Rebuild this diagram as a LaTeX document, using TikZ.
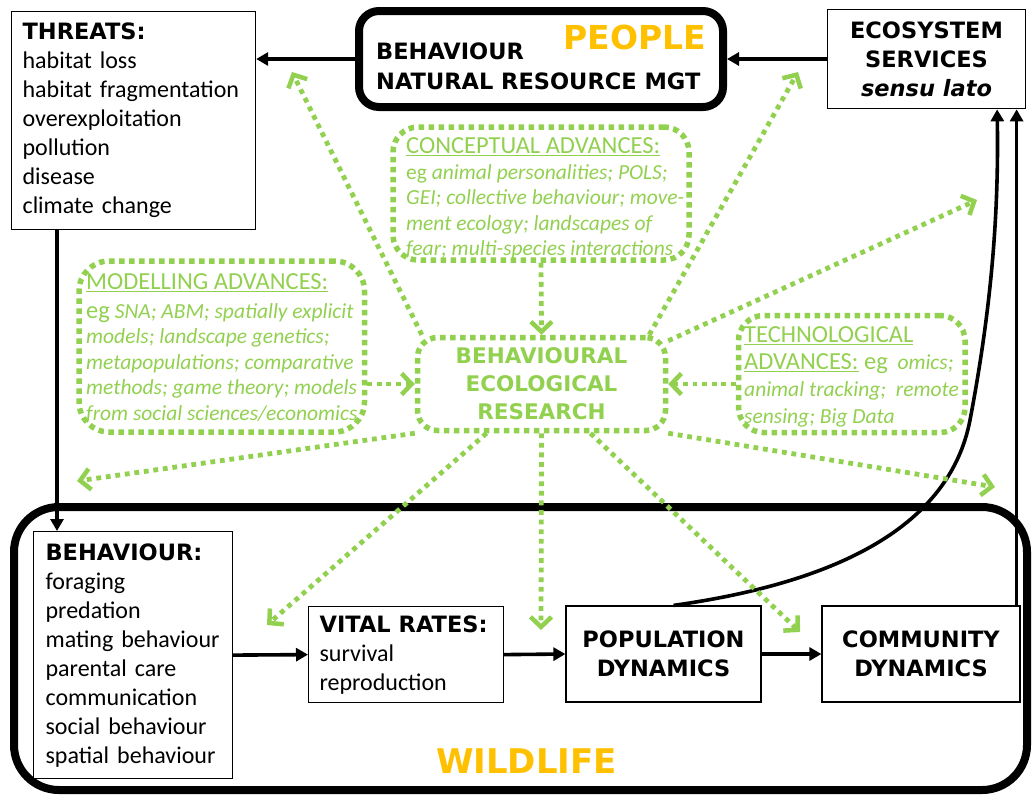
\documentclass[tikz,border=0pt]{standalone}
\usepackage{fontspec}
\setmainfont{Carlito}
\newfontfamily\headfont{DejaVu Sans}
\usetikzlibrary{arrows.meta}

\definecolor{advgreen}{HTML}{92D050}
\definecolor{labelgold}{HTML}{FFC000}

\tikzset{
  plainbox/.style={draw, line width=1.2pt, fill=white, inner ysep=0pt,
    font=\fontsize{24}{29}\selectfont},
  headtext/.style={font=\headfont\bfseries\fontsize{22.5}{29}\selectfont},
  thickbox/.style={draw, line width=8pt, rounded corners=#1},
  dotbox/.style={draw=advgreen, line width=5.5pt, dash pattern=on 5.5pt off 4.5pt, rounded corners=#1},
  advtext/.style={text=advgreen, anchor=north west, align=left, inner sep=0pt,
    font=\fontsize{21.5}{25.5}\selectfont\itshape},
  solidarrow/.style={line width=3.6pt, -{Triangle[length=12pt,width=13pt]}},
  dotarrow/.style={advgreen, line width=4.8pt, dash pattern=on 4.8pt off 4.8pt,
    -{Straight Barb[length=10pt,width=21pt,line width=4.5pt]}},
}
\newcommand{\advtitle}[1]{{\upshape\fontsize{24.5}{25.5}\selectfont\underline{#1}}}
\newcommand{\boxhead}[1]{{\headfont\bfseries\fontsize{22.5}{29}\selectfont #1}}

\begin{document}
\begin{tikzpicture}[x=1pt,y=-1pt]
\useasboundingbox (0,0) rectangle (1032,796);

% wildlife frame
\node[thickbox=45pt, minimum width=1013pt, minimum height=283pt] (wildlife) at (520.5,648.5) {};
\node[text=labelgold, inner sep=0pt, font=\headfont\bfseries\fontsize{34}{34}\selectfont] (wildlbl) at (526.5,761.5) {WILDLIFE};

% people
\node[thickbox=20pt, minimum width=364pt, minimum height=96pt] (people) at (541,59) {};
\node[anchor=north west, align=left, inner sep=0pt, font=\headfont\bfseries\fontsize{22.5}{30}\selectfont] (peopletxt) at (376,43) {BEHAVIOUR\\NATURAL RESOURCE MGT};
\node[text=labelgold, inner sep=0pt, font=\headfont\bfseries\fontsize{33}{33}\selectfont] (peoplelbl) at (635,37) {PEOPLE};

% top boxes
\node[plainbox, anchor=north west, minimum width=244pt, minimum height=218pt, text width=222pt, inner xsep=11pt] (threats) at (11,10.5) {\boxhead{THREATS:}\\ habitat loss\\ habitat fragmentation\\ overexploitation\\ pollution\\ disease\\ climate change};
\node[plainbox, headtext, align=center, minimum width=198pt, minimum height=99.5pt] (es) at (926.5,59) {ECOSYSTEM\\SERVICES\\\textit{sensu lato}};

% advances
\node[dotbox=25pt, minimum width=296pt, minimum height=133pt] (concept) at (541,193.5) {};
\node[advtext] (concepttxt) at (406,137.5) {\advtitle{CONCEPTUAL ADVANCES:}\\ {\upshape eg} animal personalities; POLS;\\ GEI; collective behaviour; move-\\ ment ecology; landscapes of\\ fear; multi-species interactions};

\node[dotbox=30pt, minimum width=285.5pt, minimum height=171pt] (modelling) at (221.75,346.5) {};
\node[advtext] (modeltxt) at (86,273.5) {\advtitle{MODELLING ADVANCES:}\\[3pt] {\upshape\fontsize{24.5}{25.5}\selectfont eg} SNA; ABM; spatially explicit\\ models; landscape genetics;\\ metapopulations; comparative\\ methods; game theory; models\\ from social sciences/economics};

\node[dotbox=25pt, minimum width=226.5pt, minimum height=117pt] (techno) at (851.75,374) {};
\node[advtext, font=\fontsize{21.5}{27}\selectfont\itshape] (technotxt) at (744,326.5) {\advtitle{TECHNOLOGICAL}\\ {\upshape\fontsize{24.5}{27}\selectfont\underline{ADVANCES:} eg}\ \ omics;\\ animal tracking;\ \ remote\\ sensing; Big Data};

\node[dotbox=20pt, minimum width=248pt, minimum height=93pt, text=advgreen, align=center, inner sep=0pt, font=\headfont\bfseries\fontsize{21.5}{28}\selectfont] (research) at (541.5,384) {BEHAVIOURAL\\ECOLOGICAL\\RESEARCH};

% wildlife boxes
\node[plainbox, anchor=north west, minimum width=199pt, minimum height=247pt, text width=175pt, inner xsep=12pt] (behaviour) at (33,531) {\boxhead{BEHAVIOUR:}\\ foraging\\ predation\\ mating behaviour\\ parental care\\ communication\\ social behaviour\\ spatial behaviour};
\node[plainbox, anchor=north west, minimum width=195pt, minimum height=96pt, text width=173pt, inner xsep=11pt] (vital) at (308,606) {\boxhead{VITAL RATES:}\\ survival\\ reproduction};
\node[plainbox, headtext, align=center, minimum width=195pt, minimum height=96pt] (population) at (663.5,654) {POPULATION\\DYNAMICS};
\node[plainbox, headtext, align=center, minimum width=198pt, minimum height=96pt] (community) at (921,654) {COMMUNITY\\DYNAMICS};

% black links
\draw[solidarrow] (people.west) -- (people.west -| threats.east);
\draw[solidarrow] (es.west) -- (es.west -| people.east);
\draw[solidarrow] ([xshift=46pt]threats.south west) -- ([xshift=46pt]threats.south west |- behaviour.north);
\draw[solidarrow] (behaviour.east) -- (vital.west);
\draw[solidarrow] (vital.east) -- (population.west);
\draw[solidarrow] (population.east) -- (community.west);
\draw[solidarrow] ([xshift=10pt]population.north) .. controls (840,582) and (950,525) .. (970,420)
  .. controls (990,315) and (999,220) .. ([xshift=-29pt]es.south east);
\draw[solidarrow] ([xshift=-4pt]community.north east) -- ([xshift=-4pt]community.north east |- es.south);

% green links
\coordinate (toPeopleL) at (292,72);
\coordinate (toPeopleR) at (798,72);
\coordinate (toES) at (977,200);
\coordinate (toLeftEdge) at (77,481);
\coordinate (toVital) at (267,625);
\coordinate (toPop) at (541,630);
\coordinate (toComm) at (800,632);
\coordinate (toRightEdge) at (995,487);

\draw[dotarrow] (concept.south) -- (research.north);
\draw[dotarrow] (modelling.east |- research.west) -- (research.west);
\draw[dotarrow] (techno.west |- research.east) -- (research.east);
\draw[dotarrow] ([xshift=7pt]research.north west) -- (toPeopleL);
\draw[dotarrow] ([xshift=-19pt]research.north east) -- (toPeopleR);
\draw[dotarrow] ([yshift=-6pt]research.north east) -- (toES);
\draw[dotarrow] (research.south west) -- (toLeftEdge);
\draw[dotarrow] ([xshift=-55pt]research.south) -- (toVital);
\draw[dotarrow] (research.south) -- (toPop);
\draw[dotarrow] ([xshift=49pt]research.south) -- (toComm);
\draw[dotarrow] (research.south east) -- (toRightEdge);
\end{tikzpicture}
\end{document}
